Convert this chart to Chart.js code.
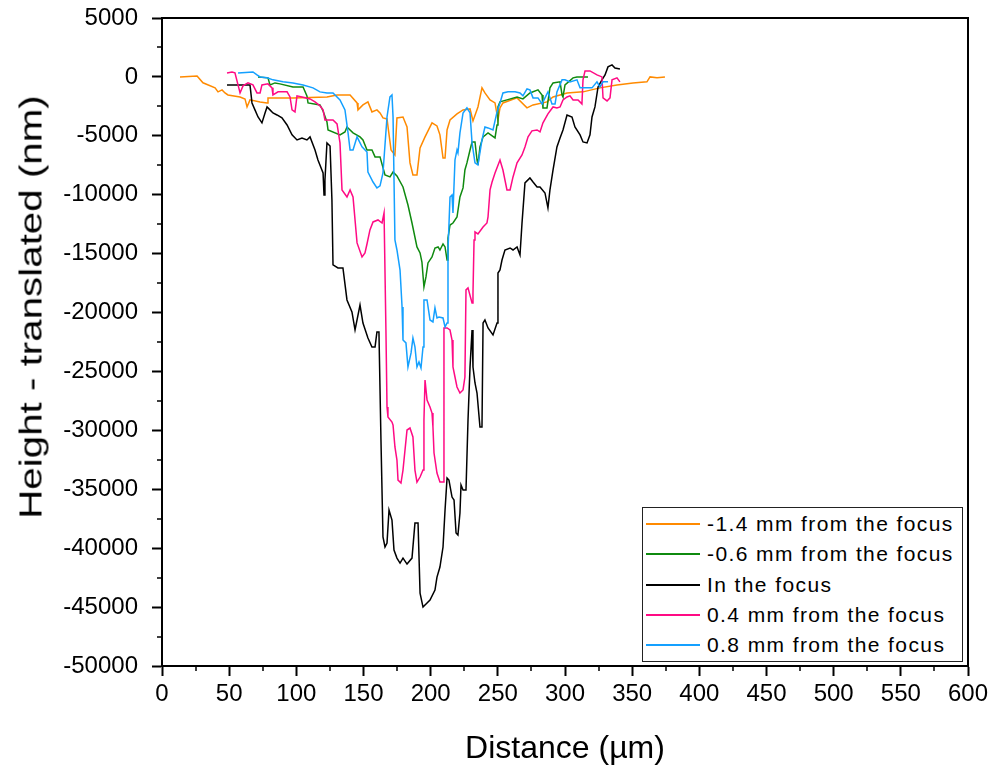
<!DOCTYPE html>
<html>
<head>
<meta charset="utf-8">
<script src="https://cdn.jsdelivr.net/npm/chart.js@4.4.1/dist/chart.umd.min.js"></script>
<style>
  html, body { margin: 0; padding: 0; background: #fff; }
  #wrap { position: relative; width: 994px; height: 770px; font-family: "Liberation Sans", Arial, sans-serif; }
  canvas { position: absolute; left: 0; top: 0; }
  #ytitle { position: absolute; left: 31px; top: 307px; font-size: 32px; white-space: nowrap; color: #000;
            transform: translate(-50%, -50%) rotate(-90deg) scaleX(1.26); }
  #legend { position: absolute; left: 642px; top: 507px; width: 319px; height: 153px; border: 1px solid #222; background: #fff; }
  .item { position: absolute; left: 0; height: 30px; width: 319px; }
  .item .ln { position: absolute; left: 3px; top: 14px; width: 54px; height: 2px; }
  .item .tx { position: absolute; left: 64px; top: 0; line-height: 30px; font-size: 21px; letter-spacing: 1.4px; color: #000; white-space: nowrap; }
</style>
</head>
<body>
<div id="wrap">
  <canvas id="c" width="994" height="770"></canvas>
  <div id="ytitle">Height - translated (nm)</div>
  <div id="legend"></div>
</div>
<script>
// ---- data ----
const seriesNames = ["-1.4 mm from the focus", "-0.6 mm from the focus", "In the focus", "0.4 mm from the focus", "0.8 mm from the focus"];

const orangeX = [13.4,26.1,30.5,39.5,41.7,44.7,46.9,49.1,58.1,61.8,63.3,64.0,65.5,73.0,78.2,78.9,97.5,122.8,130.3,140.0,145.2,145.9,149.6,153.3,156.3,160.0,162.3,164.5,167.5,170.5,173.4,174.9,179.4,182.4,184.6,186.8,189.8,192.1,195.8,201.0,204.7,206.9,209.2,210.7,212.2,214.4,219.6,224.1,229.3,231.5,235.2,238.2,240.4,244.2,247.9,250.1,251.6,253.8,264.3,271.7,276.2,286.6,291.1,301.5,313.4,326.0,338.7,350.6,361.0,363.3,368.5,374.4];
const orangeY = [0,80,-500,-930,-1270,-1100,-1360,-1530,-1700,-1870,-2550,-2550,-1950,-2120,-2210,-1780,-1780,-1700,-1530,-1530,-2210,-2800,-2380,-2120,-2970,-2800,-3060,-3480,-3570,-6200,-6620,-3480,-3400,-4250,-7300,-8320,-8320,-6030,-5090,-3900,-4160,-4920,-6880,-6880,-4500,-3650,-3140,-2800,-2720,-3740,-2550,-930,-1360,-1950,-2210,-3650,-2630,-2210,-1780,-2630,-2380,-2120,-1700,-1360,-1270,-930,-680,-510,-420,0,-80,0];

const greenX = [71.5,78.9,80.4,84.1,87.8,97.5,105.0,107.9,108.7,117.6,119.9,122.8,123.6,132.5,136.2,137.7,142.2,147.4,149.6,152.6,156.3,158.6,162.3,166.0,169.7,172.0,174.9,179.4,183.1,186.1,189.8,192.1,193.5,195.0,196.5,198.0,201.0,203.2,205.5,206.9,209.2,210.7,212.2,212.9,214.4,216.6,219.6,221.8,224.1,225.5,227.0,229.3,230.8,233.0,234.5,235.2,236.7,239.0,242.7,247.9,249.4,250.1,251.6,256.8,264.3,268.7,273.9,279.9,282.9,283.6,286.6,288.8,291.1,296.3,297.8,298.5,300.0,306.0,308.9,317.1];
const greenY = [0,-80,-680,-510,-590,-850,-850,-1610,-2210,-2380,-2890,-3820,-4500,-4920,-4670,-4250,-4750,-5090,-5350,-6200,-6200,-6790,-6790,-8320,-8490,-8070,-8410,-9340,-10870,-12400,-14430,-14940,-15710,-17830,-16980,-15790,-15280,-14520,-14430,-14690,-14180,-14430,-15540,-13670,-12570,-12400,-11890,-10190,-9420,-7900,-7300,-6200,-5520,-5520,-7050,-7470,-5940,-5090,-4750,-5180,-4080,-2550,-2120,-1950,-1700,-1870,-1360,-1100,-1530,-2630,-2630,-930,-510,-420,-1530,-1700,-680,-80,0,0];

const blackX = [48.4,65.5,67.0,69.2,71.5,74.4,76.7,78.2,80.4,82.6,85.6,89.3,93.1,96.8,100.5,104.2,107.9,110.2,113.9,116.1,119.9,120.6,121.3,122.8,125.1,126.5,127.3,131.0,134.7,137.7,141.4,143.7,147.4,149.6,153.3,156.3,158.6,160.0,161.5,163.0,164.5,166.0,167.5,169.0,171.2,172.7,174.9,177.2,179.4,182.4,186.1,188.3,190.6,192.1,194.3,197.3,199.5,203.2,204.7,206.9,209.2,210.7,212.2,213.6,215.9,217.4,218.9,220.3,221.8,222.6,224.1,226.3,227.8,229.3,230.8,231.5,233.0,234.5,236.7,238.2,239.0,240.4,242.7,246.4,249.4,250.1,251.6,253.1,255.3,259.1,261.3,264.3,266.5,268.0,270.2,273.9,276.2,279.2,281.4,285.1,287.3,288.8,291.1,294.0,296.3,298.5,301.5,305.2,307.4,311.2,313.4,316.4,318.6,320.1,322.3,324.6,327.5,329.8,332.0,335.0,337.2,340.9];
const blackY = [-680,-680,-2210,-2800,-3400,-3900,-3060,-2550,-2800,-3060,-3230,-3480,-4080,-4920,-5350,-5180,-5350,-5090,-6200,-7050,-8150,-10020,-8750,-5600,-5860,-10440,-15960,-16220,-16220,-18930,-19950,-21480,-19360,-20890,-22160,-22920,-22920,-21650,-21650,-30820,-39050,-39900,-39560,-36760,-37610,-40160,-40840,-41260,-40840,-41350,-40840,-37870,-37870,-43810,-45000,-44660,-44400,-43550,-42450,-41600,-39900,-36760,-34050,-34220,-35660,-35910,-38710,-38880,-37020,-34640,-35060,-35060,-29120,-24620,-21480,-24620,-25980,-26830,-29720,-29720,-20890,-20630,-21310,-21900,-20890,-16640,-16390,-15540,-14690,-14520,-14690,-14430,-15110,-12400,-9000,-8580,-8920,-9340,-9340,-9850,-11120,-9590,-7900,-5940,-5180,-4500,-3230,-3400,-4250,-4920,-5520,-5600,-4920,-3400,-2550,-850,-250,170,850,1020,760,680];

const pinkX = [48.4,52.1,54.3,56.6,58.1,60.3,64.0,67.7,70.7,73.0,74.4,78.9,81.9,82.6,86.4,93.1,95.3,96.8,99.0,100.5,104.2,110.2,113.9,117.6,119.9,121.3,123.6,127.3,130.3,132.5,134.0,137.7,140.0,142.2,145.2,148.9,151.1,152.6,154.8,157.1,160.8,163.8,165.3,166.0,166.7,167.5,168.2,171.2,172.0,173.4,174.9,175.7,177.9,179.4,182.4,184.6,186.8,188.3,189.8,192.1,194.3,195.0,195.8,197.3,199.5,201.0,201.7,202.5,204.7,206.9,209.2,209.9,212.2,214.4,215.9,216.6,218.1,219.6,221.8,224.1,225.5,226.3,227.8,230.8,231.5,232.3,233.0,235.2,239.0,241.9,242.7,244.2,245.7,247.9,251.6,253.8,256.8,259.1,261.3,264.3,268.0,270.2,272.5,275.4,279.2,281.4,283.6,287.3,291.1,294.0,296.3,298.5,301.5,303.7,306.0,309.7,312.6,313.4,314.9,318.6,323.8,327.5,328.3,331.3,333.5,335.0,338.7,340.9];
const pinkY = [340,420,340,-680,-1360,-760,-510,-680,-1360,-1360,-680,-590,-930,-1530,-1270,-1270,-1700,-2800,-2970,-1610,-1700,-1870,-2120,-2460,-2800,-3650,-3650,-3650,-3990,-5600,-9590,-10190,-9590,-10190,-14090,-15280,-14940,-14180,-12990,-12310,-12140,-12400,-11550,-11550,-21480,-28020,-28870,-29290,-29550,-31410,-32520,-34220,-34470,-33370,-29970,-29800,-30560,-33370,-34390,-33960,-33370,-29120,-25730,-27420,-28020,-28530,-29720,-31920,-33620,-34390,-34390,-21310,-21310,-21480,-22330,-24620,-25470,-26320,-26830,-26570,-25470,-18080,-17910,-19190,-18340,-13840,-13160,-13330,-12740,-12400,-11890,-9590,-8920,-8150,-7050,-7900,-9590,-9590,-8490,-7300,-6620,-5940,-5090,-4580,-4500,-4670,-3900,-3140,-2550,-2630,-2550,-1950,-1700,-1610,-1950,-1950,-2290,-250,510,510,170,0,-1780,-2040,-1780,-250,-80,-420];

const blueX = [56.6,67.7,70.7,73.0,78.2,82.6,90.1,97.5,105.0,112.4,117.6,122.8,127.3,132.5,136.2,138.5,140.0,142.2,145.2,148.9,152.6,153.3,157.1,160.0,162.3,164.5,167.5,169.7,171.2,172.0,173.4,174.9,177.2,178.7,179.4,181.6,183.1,185.4,186.8,188.3,189.8,191.3,192.8,194.3,195.0,197.3,199.5,201.7,203.2,204.7,206.2,209.2,210.7,212.2,212.9,214.4,215.9,216.6,218.1,219.6,220.3,221.8,224.1,227.0,229.3,230.8,233.0,235.2,238.2,240.4,242.7,246.4,249.4,251.6,253.8,257.6,262.8,266.5,268.7,271.7,273.9,276.2,279.9,282.9,285.1,287.3,290.3,292.6,294.0,297.8,300.0,303.7,308.9,311.2,320.1,323.8,326.0,328.3,332.0];
const blueY = [340,420,170,0,-80,-250,-420,-510,-680,-930,-1270,-1360,-1360,-1950,-2800,-4750,-6200,-6200,-5090,-5940,-6370,-8070,-8920,-9420,-9250,-8150,-3400,-1700,-1530,-3400,-13840,-14690,-16390,-19530,-22330,-22580,-24620,-23430,-22160,-22920,-24620,-24200,-24710,-22920,-18930,-18930,-20630,-20800,-19610,-20460,-20380,-20460,-21230,-20890,-14690,-10190,-10020,-11550,-7050,-6200,-6450,-4750,-3060,-2630,-3060,-5600,-7300,-7470,-5350,-4250,-4330,-4500,-2970,-2210,-1360,-1270,-1270,-1360,-1610,-1020,-1100,-1780,-1780,-2290,-1780,-1270,-2290,-2290,-1270,-250,-250,-420,-250,-930,-930,-420,-850,-420,-420];

const xTicksMajor = [0,50,100,150,200,250,300,350,400,450,500,550,600];
const yTicksMajor = [5000,0,-5000,-10000,-15000,-20000,-25000,-30000,-35000,-40000,-45000,-50000];

// ---- styles ----
const seriesColors = ["#ff8a00", "#0f8a0f", "#000000", "#ff0a84", "#14a0ff"];
const seriesX = [orangeX, greenX, blackX, pinkX, blueX];
const seriesY = [orangeY, greenY, blackY, pinkY, blueY];

function pts(xs, ys) { return xs.map((x, i) => ({ x: x, y: ys[i] })); }

const datasets = seriesNames.map((name, i) => ({
  label: name,
  data: pts(seriesX[i], seriesY[i]),
  borderColor: seriesColors[i],
  backgroundColor: seriesColors[i],
  borderWidth: 1.5,
  pointRadius: 0,
  showLine: true,
  tension: 0,
  fill: false,
  order: seriesNames.length - i
}));

const frameAndMinor = {
  id: 'frameAndMinor',
  afterDraw(chart) {
    const { ctx, chartArea: a, scales: { x, y } } = chart;
    ctx.save();
    ctx.strokeStyle = '#000';
    ctx.lineWidth = 2;
    ctx.beginPath();
    ctx.moveTo(a.left - 1, a.top);
    ctx.lineTo(a.right, a.top);
    ctx.lineTo(a.right, a.bottom);
    ctx.stroke();
    ctx.lineWidth = 1.5;
    ctx.beginPath();
    for (let i = 0; i < xTicksMajor.length - 1; i++) {
      const px = Math.round(x.getPixelForValue((xTicksMajor[i] + xTicksMajor[i + 1]) / 2));
      ctx.moveTo(px, a.bottom);
      ctx.lineTo(px, a.bottom + 5);
    }
    for (let i = 0; i < yTicksMajor.length - 1; i++) {
      const py = Math.round(y.getPixelForValue((yTicksMajor[i] + yTicksMajor[i + 1]) / 2));
      ctx.moveTo(a.left, py);
      ctx.lineTo(a.left - 5, py);
    }
    ctx.stroke();
    ctx.restore();
  }
};

const tickFont = { family: '"Liberation Sans", Arial, sans-serif', size: 24 };

new Chart(document.getElementById('c'), {
  type: 'scatter',
  data: { datasets: datasets },
  options: {
    responsive: false,
    animation: false,
    events: [],
    layout: { padding: { left: 0, top: 18, right: 26, bottom: 0 } },
    plugins: { legend: { display: false }, tooltip: { enabled: false } },
    scales: {
      x: {
        type: 'linear',
        min: 0, max: 600,
        afterBuildTicks(s) { s.ticks = xTicksMajor.map(v => ({ value: v })); },
        afterFit(s) { s.height = 104; s.paddingLeft = 0; s.paddingRight = 0; },
        ticks: { font: tickFont, color: '#000', padding: 4, maxRotation: 0, autoSkip: false, callback: v => String(v) },
        grid: { display: true, drawOnChartArea: false, drawTicks: true, tickLength: 10, tickWidth: 2, tickColor: '#000', color: '#000' },
        border: { display: true, color: '#000', width: 2 },
        title: { display: true, text: 'Distance (µm)', color: '#000', font: { family: '"Liberation Sans", Arial, sans-serif', size: 32 }, padding: { top: 0, bottom: 2 } }
      },
      y: {
        type: 'linear',
        min: -50000, max: 5000,
        afterBuildTicks(s) { s.ticks = yTicksMajor.slice().reverse().map(v => ({ value: v })); },
        afterFit(s) { s.width = 162; s.paddingTop = 0; s.paddingBottom = 0; },
        ticks: { font: tickFont, color: '#000', padding: 14, autoSkip: false, callback: v => String(v) },
        grid: { display: true, drawOnChartArea: false, drawTicks: true, tickLength: 10, tickWidth: 2, tickColor: '#000', color: '#000' },
        border: { display: true, color: '#000', width: 2 }
      }
    }
  },
  plugins: [frameAndMinor]
});

// ---- legend (HTML text) ----
const lg = document.getElementById('legend');
const rowCenters = [16, 46, 77, 107, 137];
seriesNames.forEach((name, i) => {
  const row = document.createElement('div');
  row.className = 'item';
  row.style.top = (rowCenters[i] - 15) + 'px';
  const ln = document.createElement('div');
  ln.className = 'ln';
  ln.style.background = seriesColors[i];
  const tx = document.createElement('div');
  tx.className = 'tx';
  tx.textContent = name;
  row.appendChild(ln);
  row.appendChild(tx);
  lg.appendChild(row);
});
</script>
</body>
</html>
